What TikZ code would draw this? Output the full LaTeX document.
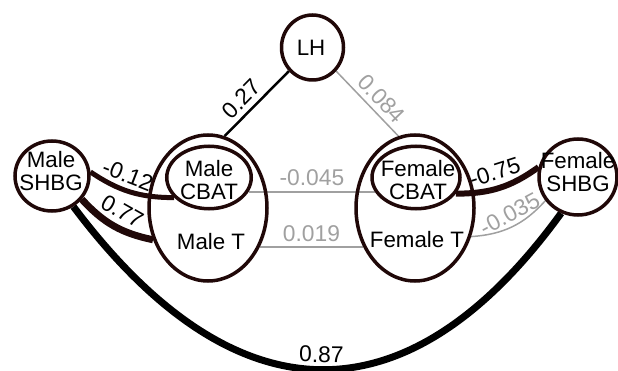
\documentclass[tikz,border=0pt]{standalone}
\usepackage{fontspec}
\setmainfont{Liberation Sans}
\usetikzlibrary{shapes.geometric}
\pgfdeclarelayer{background}
\pgfsetlayers{background,main}
\definecolor{outline}{RGB}{32,8,8}
\definecolor{faint}{RGB}{160,160,160}
\tikzset{
  var/.style={ellipse, draw=outline, line width=3.5pt, inner sep=0pt},
  txt/.style={font=\fontsize{22.3}{23}\selectfont, align=center, inner sep=0pt},
  coef/.style={font=\fontsize{22.8}{23}\selectfont, inner sep=2pt, sloped},
  fcoef/.style={coef, text=faint},
  strong/.style={draw=black, line width=2.5pt},
  weak/.style={draw=faint, line width=1.5pt},
  thick path/.style={draw=outline, line width=#1},
}
\begin{document}
\begin{tikzpicture}[x=1pt,y=-1pt]
\useasboundingbox (0,0) rectangle (618,371);

% variables
\node[var, minimum width=62pt,  minimum height=65pt]   (lh) at (312.5,47.5) {};
\node[var, minimum width=74pt,  minimum height=70pt]   (mS) at (52,176) {};
\node[var, minimum width=78pt,  minimum height=76pt]   (fS) at (578,177) {};
\node[var, minimum width=118pt, minimum height=146pt]  (mT) at (208,208) {};
\node[var, minimum width=118pt, minimum height=146pt]  (fT) at (415,208) {};
\node[var, minimum width=84.5pt, minimum height=62.5pt] (mC) at (209,177.5) {};
\node[var, minimum width=88pt,  minimum height=62.5pt] (fC) at (416,177.5) {};

% variable names
\node[txt] (lhT) at (311,48.3) {LH};
\node[txt] (mST) at (51,171) {Male\\SHBG};
\node[txt] (fST) at (578,172) {Female\\SHBG};
\node[txt] (mCT) at (209,180) {Male\\CBAT};
\node[txt] (fCT) at (418,180) {Female\\CBAT};
\node[txt] (mTT) at (211,242) {Male T};
\node[txt] (fTT) at (417,240) {Female T};

% connections with their coefficients
\begin{pgfonlayer}{background}
\draw[strong] (mT.77) -- (lh.225)
  node[coef, pos=.42, above=3pt] {0.27};
\draw[weak] (lh.-45) -- (fT.103)
  node[fcoef, pos=.57, above=3pt] {0.084};
\draw[weak] (mC.-20) -- (mC.-20 -| fC.200)
  node[fcoef, midway, above=3pt] {-0.045};
\draw[weak] (mT.-37) -- (fT.217)
  node[fcoef, midway, above=3pt] {0.019};
\draw[thick path=5pt] (mS.6) to[bend right=17]
  node[coef, pos=.4, above=2.5pt] {-0.12} (mC.210);
\draw[thick path=7pt] (mS.-38) to[bend right=18]
  node[coef, pos=.5, above=3.5pt] {0.77} (mT.210);
\draw[thick path=6pt] (fC.-22) to[bend right=18]
  node[coef, pos=.5, above=3pt] {-0.75} (fS.166);
\draw[weak] (fT.-27) to[bend right=22]
  node[fcoef, pos=.55, above=2pt] {-0.035} (fS.216);
\draw[black, line width=7pt] (mS.-55) .. controls (236,423) and (409,423) .. (fS.245)
  node[coef, pos=.5, above=1.8pt] {0.87};
\end{pgfonlayer}
\end{tikzpicture}
\end{document}
